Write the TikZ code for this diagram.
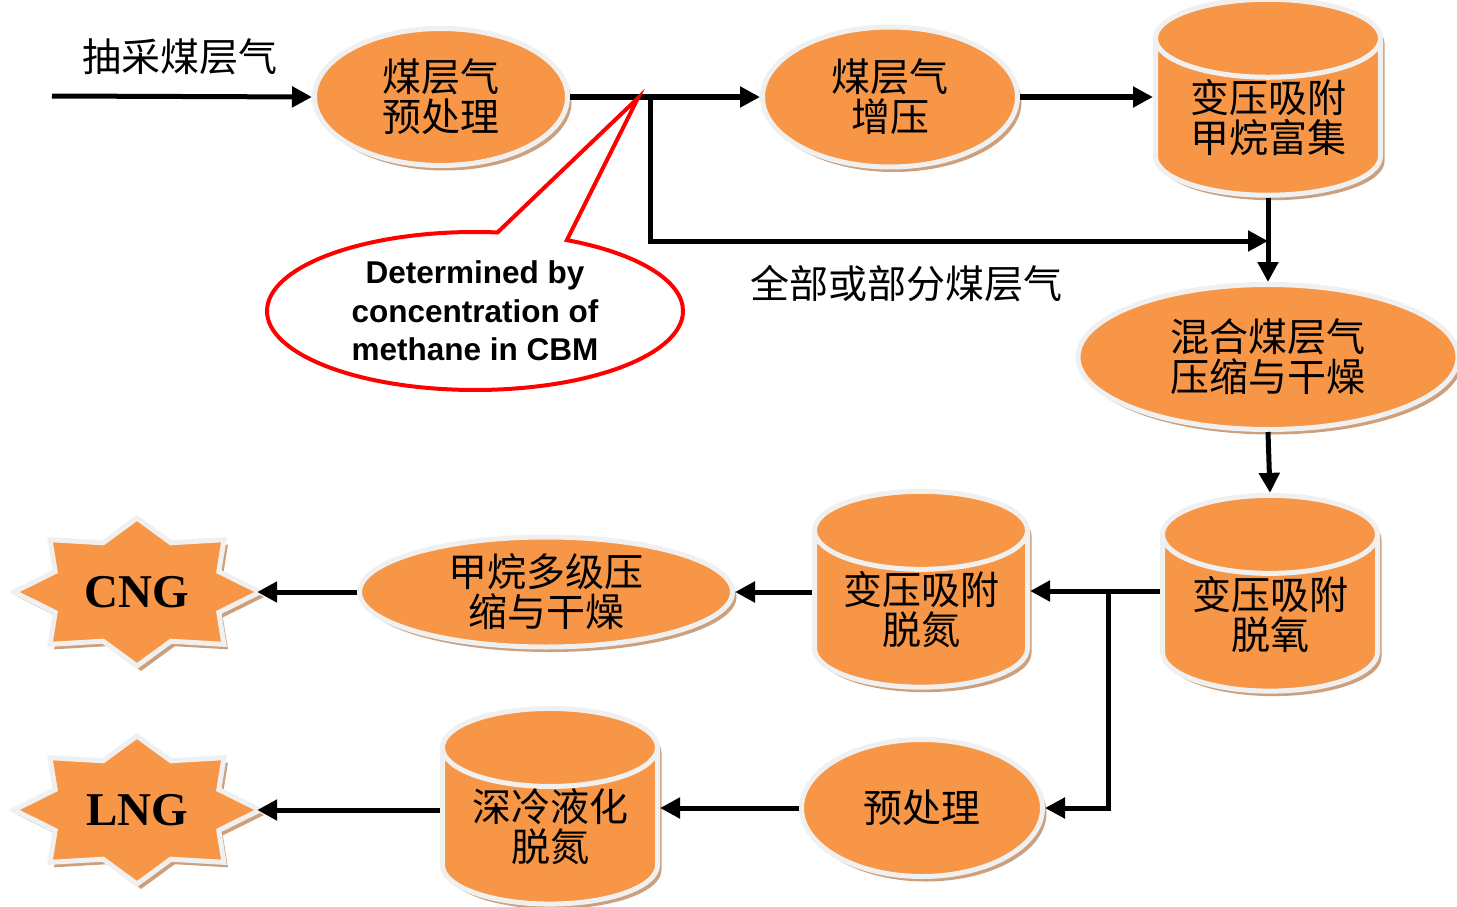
\documentclass[tikz,border=0pt]{standalone}
\usepackage{fontspec}
\setmainfont{Liberation Sans}
\newfontfamily\cjk{Noto Sans CJK SC}
\newfontfamily\gasfont{Liberation Serif}
\usepackage{tikz}
\usetikzlibrary{shapes.geometric, shapes.callouts, arrows.meta, shadows, calc}

\definecolor{procorange}{HTML}{F79646}
\definecolor{rimgray}{HTML}{F0F0F0}
\definecolor{shadebrown}{RGB}{205,160,125}

\newcommand{\gasstar}[1]{%
  \path[startile] ([shift={#1}]0:123 and 74)
    \foreach \a/\r in {22.5/.72,45/1,67.5/.72,90/1,112.5/.72,135/1,157.5/.72,180/1,
                       202.5/.72,225/1,247.5/.72,270/1,292.5/.72,315/1,337.5/.72}
    { -- ([shift={#1}]\a:{123*\r} and {74*\r}) } -- cycle;}

\begin{document}
\begin{tikzpicture}[x=1pt, y=-1pt,
  shade/.style={drop shadow={shadow xshift=4pt, shadow yshift=-5pt, fill=shadebrown, opacity=1}},
  stage/.style={ellipse, fill=procorange, draw=rimgray, line width=5pt, shade, align=center,
    inner sep=0pt, font=\cjk\fontsize{39}{40}\selectfont},
  drum/.style={cylinder, shape border rotate=90, aspect=0.5, fill=procorange, draw=rimgray,
    line width=5pt, shade, align=center, inner sep=0pt, font=\cjk\fontsize{39}{40}\selectfont},
  startile/.style={fill=procorange, draw=rimgray, line width=5pt, line join=miter, shade},
  product/.style={minimum width=240, minimum height=140, font=\gasfont\bfseries\fontsize{47}{47}\selectfont},
  note/.style={ellipse callout, draw=red, line width=4pt, fill=white, minimum width=416, minimum height=158,
    callout pointer arc=20, align=center, font=\bfseries\fontsize{31.5}{38.5}\selectfont},
  tag/.style={font=\cjk\fontsize{39}{40}\selectfont},
  line/.style={draw, line width=5pt},
  flow/.style={draw, line width=5pt, -{Triangle[length=20pt,width=20pt]}}
]
  \useasboundingbox (0,0) rectangle (1457,907);

  \node[tag] (feed) at (180,57) {抽采煤层气};
  \node[tag] (part) at (906,284) {全部或部分煤层气};

  \node[stage, minimum width=253, minimum height=137] (pre)   at (441,97)  {煤层气\\预处理};
  \node[stage, minimum width=255, minimum height=140] (boost) at (890,97)  {煤层气\\增压};
  \node[drum, minimum width=225, minimum height=170] (enrich) at (1268,118) {变压吸附\\甲烷富集};
  \node[stage, minimum width=380, minimum height=145] (mix)   at (1268,357) {混合煤层气\\压缩与干燥};
  \node[drum, minimum width=215, minimum height=174] (deox)  at (1270,614) {变压吸附\\脱氧};
  \node[drum, minimum width=213, minimum height=174] (denit) at (921,610)  {变压吸附\\脱氮};
  \node[stage, minimum width=373, minimum height=110] (multi) at (546,592) {甲烷多级压\\缩与干燥};
  \node[stage, minimum width=241, minimum height=137] (pretreat) at (922,808) {预处理};
  \node[drum, minimum width=215, minimum height=171] (cryo)  at (550,827) {深冷液化\\脱氮};

  \gasstar{(137,592)}
  \node[product] (cng) at (137,592) {CNG};
  \gasstar{(137,810)}
  \node[product] (lng) at (137,810) {LNG};

  \coordinate (inlet) at (52,96);
  \coordinate (split1) at (650,96);
  \coordinate (join1) at (1268,241);
  \coordinate (split2) at (1108,591);
  \coordinate (tap) at (638,98);

  \path[flow] (inlet) -- (pre.west);
  \path[flow] (pre.east) -- (boost.west);
  \path[flow] (boost.east) -- (boost.east -| enrich.west);
  \path[flow] (split1) |- (join1);
  \path[flow] (enrich.south) -- (mix.north);
  \path[flow] (mix.south) -- (deox.north);
  \path[line] (deox.west |- split2) -- (split2);
  \path[flow] (split2) -- (split2 -| denit.east);
  \path[flow] (split2) |- (pretreat.east);
  \path[flow] (denit.west |- multi.east) -- (multi.east);
  \path[flow] (multi.west) -- (cng.east);
  \path[flow] (pretreat.west) -- (pretreat.west -| cryo.east);
  \path[flow] (cryo.west |- lng.east) -- (lng.east);

  \node[note, callout absolute pointer={(tap)}] (remark) at (475,311)
    {Determined by\\concentration of\\methane in CBM};
\end{tikzpicture}
\end{document}
